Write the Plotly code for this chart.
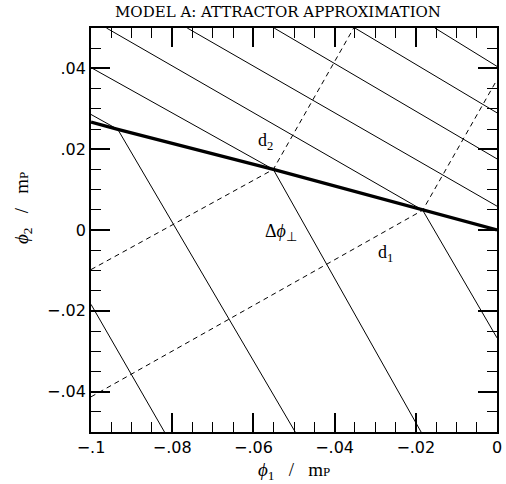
import plotly.graph_objects as go

# Attractor (thick) line
attr_x = [-0.1, -0.0934, -0.0551, -0.0183, 0.0]
attr_y = [0.0267, 0.0249, 0.0150, 0.0049, 0.0]

# Shallow solid segments (above the attractor line)
up_x0 = [-0.1, -0.1, -0.0962, -0.0763, -0.0549, -0.0350, -0.0153]
up_y0 = [0.0286, 0.0402, 0.05, 0.05, 0.05, 0.05, 0.05]
up_x1 = [-0.0934, -0.0551, -0.0183, 0.0, 0.0, 0.0, 0.0]
up_y1 = [0.0249, 0.0150, 0.0049, 0.0059, 0.0176, 0.0290, 0.0405]

# Steep solid segments (below the attractor line)
lo_x0 = [-0.1, -0.0934, -0.0551, -0.0183]
lo_y0 = [-0.0184, 0.0249, 0.0150, 0.0049]
lo_x1 = [-0.0819, -0.0497, -0.0187, 0.0]
lo_y1 = [-0.05, -0.05, -0.05, -0.0267]

# Dashed lines
dash1_x = [-0.1, -0.0551, -0.0353]
dash1_y = [-0.0098, 0.0150, 0.05]
dash2_x = [-0.1, -0.0183, 0.0]
dash2_y = [-0.0413, 0.0049, 0.0372]

# Ticks
x_ticks = [-0.1, -0.08, -0.06, -0.04, -0.02, 0.0]
x_ticktext = ["\u2212.1", "\u2212.08", "\u2212.06", "\u2212.04", "\u2212.02", "0"]
y_ticks = [-0.04, -0.02, 0.0, 0.02, 0.04]
y_ticktext = ["\u2212.04", "\u2212.02", "0", ".02", ".04"]

# Labels
lab_text = ["d<sub>2</sub>", "\u0394<i>\u03d5</i><sub>\u22a5</sub>", "d<sub>1</sub>"]
lab_x = [-0.0569, -0.0533, -0.0274]
lab_y = [0.0218, -0.0007, -0.0057]


def seg(x0, y0, x1, y1):
    xs, ys = [], []
    for a, b, c, d in zip(x0, y0, x1, y1):
        xs += [a, c, None]
        ys += [b, d, None]
    return xs, ys


fig = go.Figure()
ux, uy = seg(up_x0, up_y0, up_x1, up_y1)
lx, ly = seg(lo_x0, lo_y0, lo_x1, lo_y1)
fig.add_trace(go.Scatter(x=ux, y=uy, mode="lines", line=dict(color="black", width=1), showlegend=False, hoverinfo="skip"))
fig.add_trace(go.Scatter(x=lx, y=ly, mode="lines", line=dict(color="black", width=1), showlegend=False, hoverinfo="skip"))
fig.add_trace(go.Scatter(x=dash1_x, y=dash1_y, mode="lines", line=dict(color="black", width=1, dash="5px,4px"), showlegend=False, hoverinfo="skip"))
fig.add_trace(go.Scatter(x=dash2_x, y=dash2_y, mode="lines", line=dict(color="black", width=1, dash="5px,4px"), showlegend=False, hoverinfo="skip"))
fig.add_trace(go.Scatter(x=attr_x, y=attr_y, mode="lines", line=dict(color="black", width=3.2), showlegend=False, hoverinfo="skip"))

serif = "Liberation Serif"
for t, x, y in zip(lab_text, lab_x, lab_y):
    fig.add_annotation(x=x, y=y, text=t, showarrow=False, xanchor="center", yanchor="middle",
                       font=dict(family=serif, size=18, color="black"))

ax_title = "<i>\u03d5</i><sub>{}</sub>   /   m<span style='font-size:13px'>P</span>"
fig.add_annotation(xref="paper", yref="paper", x=0.5, y=-0.097, yanchor="middle", xanchor="center",
                   text=ax_title.format(1),
                   showarrow=False, font=dict(family=serif, size=19, color="black"))
fig.add_annotation(xref="paper", yref="paper", x=-0.167, y=0.555, yanchor="middle", xanchor="center",
                   textangle=-90,
                   text=ax_title.format(2),
                   showarrow=False, font=dict(family=serif, size=19, color="black"))

axis_common = dict(
    showgrid=False, zeroline=False, showline=True, linecolor="black", linewidth=1.8,
    mirror="ticks", ticks="inside", ticklen=19, tickwidth=1.5, tickcolor="black",
    tickfont=dict(family="DejaVu Sans", size=16, color="black"),
)

fig.update_xaxes(range=[-0.1, 0.0], tickmode="array", tickvals=x_ticks, ticktext=x_ticktext,
                 ticklabelstandoff=0,
                 minor=dict(tickmode="linear", tick0=0, dtick=0.005, ticks="inside", ticklen=10,
                            tickwidth=1.2, tickcolor="black", showgrid=False),
                 **axis_common)
fig.update_yaxes(range=[-0.05, 0.05], tickmode="array", tickvals=y_ticks, ticktext=y_ticktext,
                 minor=dict(tickmode="linear", tick0=0, dtick=0.005, ticks="inside", ticklen=10,
                            tickwidth=1.2, tickcolor="black", showgrid=False),
                 **axis_common)

fig.update_layout(
    width=506, height=484,
    margin=dict(l=91, r=4, t=28, b=52, pad=0),
    plot_bgcolor="white", paper_bgcolor="white",
    title=dict(text="MODEL A: ATTRACTOR APPROXIMATION", x=278 / 506, xref="container", xanchor="center",
               y=1 - 12 / 484, yref="container", yanchor="middle",
               font=dict(family="DejaVu Serif", size=15, color="black")),
)

fig.write_html("out.html")
